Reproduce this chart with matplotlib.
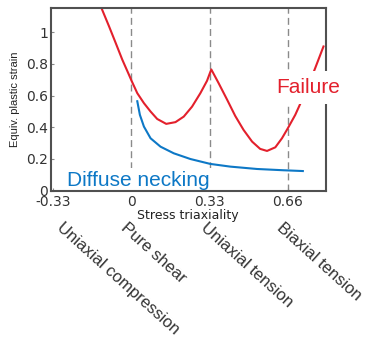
import numpy as np
import matplotlib
matplotlib.use('Agg')
import matplotlib.pyplot as plt
import matplotlib.transforms as mtransforms

# curva de falha
fail_x = [-0.125, -0.094, -0.066, -0.038, -0.010, 0.001, 0.025, 0.053, 0.081, 0.109,
          0.147, 0.186, 0.221, 0.256, 0.291, 0.319, 0.337,
          0.368, 0.404, 0.438, 0.473, 0.509, 0.543, 0.572, 0.607, 0.635,
          0.660, 0.691, 0.726, 0.752, 0.775, 0.810]
fail_y = [1.149, 1.037, 0.932, 0.826, 0.731, 0.693, 0.615, 0.552, 0.499, 0.452,
          0.421, 0.432, 0.467, 0.530, 0.615, 0.693, 0.765,
          0.678, 0.573, 0.471, 0.383, 0.309, 0.263, 0.250, 0.273, 0.330,
          0.394, 0.478, 0.594, 0.685, 0.773, 0.910]

# curva de estriccao difusa
neck_x = [0.025, 0.036, 0.053, 0.081, 0.123, 0.179, 0.249, 0.333, 0.417, 0.530, 0.641, 0.723]
neck_y = [0.564, 0.478, 0.404, 0.330, 0.277, 0.235, 0.199, 0.168, 0.151, 0.136, 0.128, 0.123]

xticks = [-0.33, 0, 0.33, 0.66]
xtick_labels = ['-0.33', '0', '0.33', '0.66']
yticks = [0, 0.2, 0.4, 0.6, 0.8, 1]
ytick_labels = ['0', '0.2', '0.4', '0.6', '0.8', '1']
guide_x = [0, 0.33, 0.66]

state_labels = ['Uniaxial compression', 'Pure shear', 'Uniaxial tension', 'Biaxial tension']
state_x = [-0.285, -0.012, 0.325, 0.644]

red = '#e3202c'
blue = '#0d78c6'

fig = plt.figure(figsize=(3.87, 3.39), dpi=100)
ax = fig.add_axes([0.131, 0.438, 0.711, 0.537])

for gx in guide_x:
    ax.axvline(gx, color='#8a8a8a', lw=1.0, ls=(0, (5, 3)), zorder=1)

ax.plot(fail_x, fail_y, color=red, lw=1.5, zorder=2, solid_joinstyle='round')
ax.plot(neck_x, neck_y, color=blue, lw=1.5, zorder=2, solid_joinstyle='round')

ax.set_xlim(-0.34, 0.82)
ax.set_ylim(0, 1.15)
ax.set_xticks(xticks)
ax.set_xticklabels(xtick_labels, fontsize=10)
ax.set_yticks(yticks)
ax.set_yticklabels(ytick_labels, fontsize=10)
ax.tick_params(direction='in', length=2, color='#888888', labelcolor='#333333')
ax.tick_params(axis='x', pad=3)
ax.tick_params(axis='y', pad=2)
for s in ax.spines.values():
    s.set_color('#505050')
    s.set_linewidth(1.5)

ax.set_xlabel('Stress triaxiality', fontsize=9, labelpad=0, color='#222222')
ax.set_ylabel('Equiv. plastic strain', fontsize=8, family='Liberation Sans',
              labelpad=4, color='#222222')

ax.text(0.031, 0.028, 'Diffuse necking', color=blue, fontsize=15,
        family='Liberation Sans', ha='center', va='baseline', zorder=2.2,
        bbox=dict(facecolor='white', edgecolor='none', pad=2))
ax.text(0.747, 0.649, 'Failure', color=red, fontsize=15,
        family='Liberation Sans', ha='center', va='center', zorder=5,
        clip_on=False, bbox=dict(facecolor='white', edgecolor='none', pad=5))

trans = mtransforms.blended_transform_factory(ax.transData, fig.transFigure)
for lab, sx in zip(state_labels, state_x):
    ax.text(sx, 0.352, lab, transform=trans, rotation=-42, rotation_mode='anchor',
            ha='left', va='top', fontsize=12, family='Liberation Sans',
            color='#333333', clip_on=False)

fig.savefig('out.png', dpi=100)
